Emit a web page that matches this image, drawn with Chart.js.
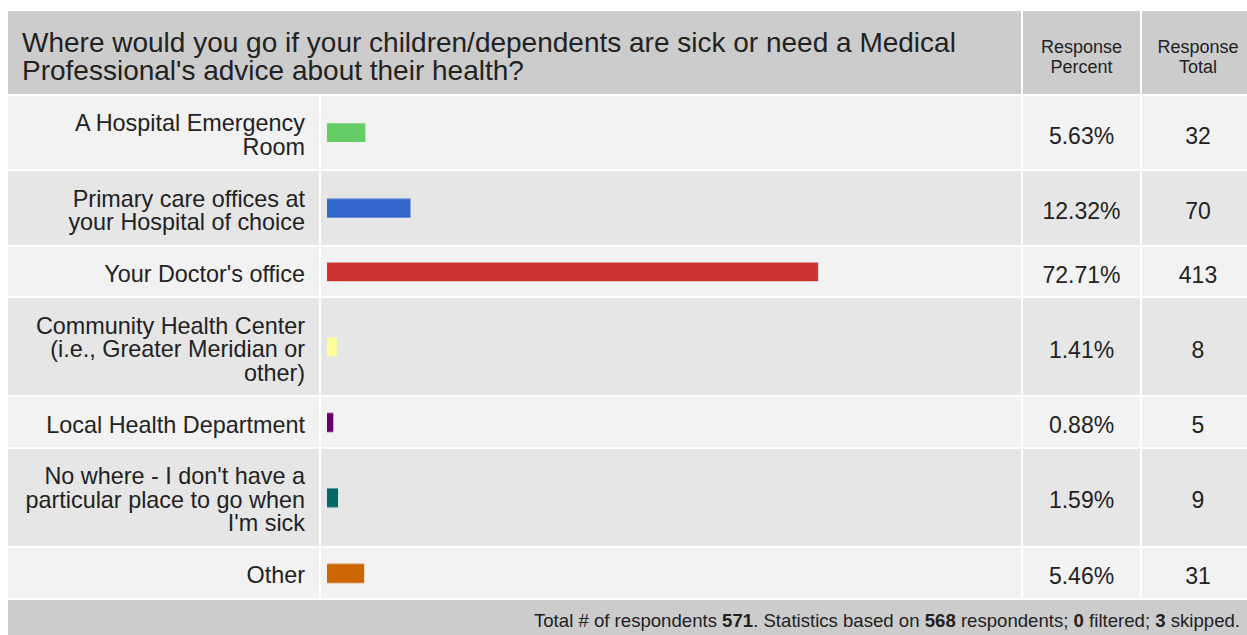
<!DOCTYPE html>
<html>
<head>
<meta charset="utf-8">
<script src="https://cdn.jsdelivr.net/npm/chart.js@4.4.1/dist/chart.umd.min.js"></script>
<style>
  body { margin: 0; background: #fff; overflow: hidden; font-family: 'Liberation Sans', Arial, sans-serif; color: #222; }
  #survey { position: absolute; left: 8px; top: 11px; width: 1246px; table-layout: fixed; border-collapse: separate; border-spacing: 0; }
  #survey td { border-right: 2px solid #fff; border-bottom: 2px solid #fff; padding: 0; }
  #survey td:last-child { border-right: 0; }
  .head td { background: #ccc; vertical-align: middle; padding-top: 8px !important; }
  .title { font-size: 28px; line-height: 28px; padding-left: 14px !important; }
  .colhead { font-size: 18px; line-height: 20px; text-align: center; }
  .answer { font-size: 23.4px; line-height: 23.4px; text-align: right; padding: 16.4px 14px 10.1px 0 !important; }
  .barcell { position: relative; }
  .barcell div { position: absolute; left: 0; top: 0; right: 0; bottom: 0; }
  .num { font-size: 23px; text-align: center; padding-top: 7px !important; }
  .odd td { background: #f2f2f2; }
  .even td { background: #e6e6e6; }
  .foot td { background: #ccc; font-size: 18.6px; text-align: right; padding: 11px 14px 20px 0 !important; line-height: 20px; }
</style>
</head>
<body>
<table id="survey">
  <colgroup><col style="width:313px"><col style="width:702px"><col style="width:119px"><col style="width:112px"></colgroup>
  <tbody id="rows"></tbody>
</table>
<script>
const question = "Where would you go if your children/dependents are sick or need a Medical<br>Professional's advice about their health?"

const answers = [
    ['A Hospital Emergency', 'Room'],
    ['Primary care offices at', 'your Hospital of choice'],
    ["Your Doctor's office"],
    ['Community Health Center', '(i.e., Greater Meridian or', 'other)'],
    ['Local Health Department'],
    ["No where - I don't have a", 'particular place to go when', "I'm sick"],
    ['Other']
]
const percents = [5.63, 12.32, 72.71, 1.41, 0.88, 1.59, 5.46]
const totals = [32, 70, 413, 8, 5, 9, 31]
const barColors = ['#66cc66', '#3366cc', '#cc3333', '#ffff99', '#660066', '#006666', '#cc6600']

const totalRespondents = 571
const basedOn = 568
const filtered = 0
const skipped = 3

const rows = document.getElementById('rows')

let html = `
    <tr class="head" style="height:85px">
        <td class="title" colspan="2">${question}</td>
        <td class="colhead">Response<br>Percent</td>
        <td class="colhead">Response<br>Total</td>
    </tr>`

answers.forEach((lines, i) => {
    html += `
    <tr class="${i % 2 == 0 ? 'odd' : 'even'}">
        <td class="answer">${lines.join('<br>')}</td>
        <td class="barcell"><div><canvas id="bar${i}"></canvas></div></td>
        <td class="num">${percents[i].toFixed(2)}%</td>
        <td class="num">${totals[i]}</td>
    </tr>`
})

html += `
    <tr class="foot">
        <td colspan="4">Total # of respondents <b>${totalRespondents}</b>. Statistics based on <b>${basedOn}</b> respondents; <b>${filtered}</b> filtered; <b>${skipped}</b> skipped.</td>
    </tr>`

rows.innerHTML = html

percents.forEach((value, i) => {
    new Chart(document.getElementById('bar' + i), {
        type: 'bar',
        data: {
            labels: [answers[i].join(' ')],
            datasets: [{
                data: [value],
                backgroundColor: barColors[i],
                borderWidth: 0,
                barThickness: 18
            }]
        },
        options: {
            indexAxis: 'y',
            responsive: true,
            maintainAspectRatio: false,
            animation: false,
            layout: { padding: { left: 6, right: 19, top: 0, bottom: 0 } },
            scales: {
                x: { min: 0, max: 100, display: false },
                y: { display: false }
            },
            plugins: {
                legend: { display: false },
                tooltip: { enabled: false }
            }
        }
    })
})
</script>
</body>
</html>
